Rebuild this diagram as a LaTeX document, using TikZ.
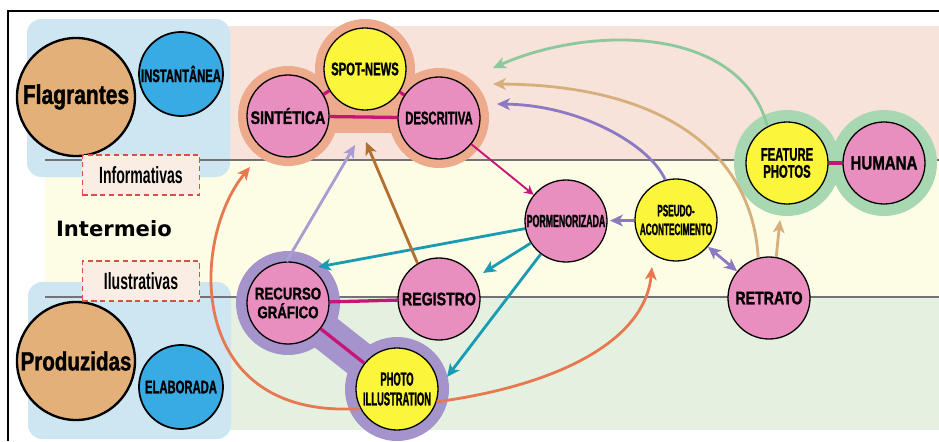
\documentclass[tikz,border=0pt]{standalone}
\usepackage{fontspec}
\newfontfamily\wideC[FakeStretch=0.78, BoldFeatures={FakeBold=1.2}]{Liberation Sans}
\newfontfamily\midC[FakeStretch=0.62, BoldFeatures={FakeBold=1.2}]{Liberation Sans}
\newfontfamily\slimC[FakeStretch=0.5, BoldFeatures={FakeBold=1.2}]{Liberation Sans}
\newfontfamily\tagC[FakeStretch=0.6]{Liberation Sans}
\newfontfamily\dejavu{DejaVu Sans}
\usetikzlibrary{arrows.meta, calc}
\definecolor{bubpink}{RGB}{233,143,191}
\definecolor{bubyellow}{RGB}{252,246,58}
\definecolor{bubblue}{RGB}{56,171,228}
\definecolor{bubtan}{RGB}{226,176,120}
\definecolor{boxblue}{RGB}{205,230,241}
\definecolor{bandpeach}{RGB}{247,227,217}
\definecolor{bandyellow}{RGB}{253,253,230}
\definecolor{bandgreen}{RGB}{229,241,224}
\definecolor{halopeach}{RGB}{237,170,140}
\definecolor{halogreen}{RGB}{168,216,178}
\definecolor{halopurple}{RGB}{165,148,204}
\definecolor{linkmag}{RGB}{200,20,120}
\definecolor{arrteal}{RGB}{25,155,180}
\definecolor{arrpurple}{RGB}{140,120,195}
\definecolor{arrtan}{RGB}{215,175,125}
\definecolor{arrgreen}{RGB}{140,200,155}
\definecolor{arrbrown}{RGB}{180,110,45}
\definecolor{arrlav}{RGB}{170,155,210}
\definecolor{arrorange}{RGB}{232,120,80}
\definecolor{tagred}{RGB}{215,80,70}
\definecolor{tagfill}{RGB}{250,238,228}
\pgfdeclarelayer{bands}
\pgfdeclarelayer{halos}
\pgfsetlayers{bands,halos,main}
\tikzset{
  bub/.style={circle, draw=black, line width=1.1pt, minimum size=2.46cm, inner sep=0pt, align=center},
  pinkbub/.style={bub, fill=bubpink},
  yelbub/.style={bub, fill=bubyellow},
  bluebub/.style={bub, fill=bubblue, minimum size=2.52cm, line width=1.5pt},
  bigbub/.style={bub, fill=bubtan, minimum size=3.54cm, line width=2pt},
  tag/.style={draw=tagred, dash pattern=on 4.5pt off 3pt, line width=1.5pt, fill=tagfill, minimum width=3.51cm, minimum height=1.2cm, font=\tagC\bfseries\fontsize{20}{22}\selectfont},
  link/.style={draw=linkmag, line width=2.8pt},
  arr/.style={line width=2.4pt, ->, >={Stealth[length=11pt,width=10pt,inset=3pt]}},
}

\begin{document}
\begin{tikzpicture}[x=0.03cm, y=-0.03cm]
  \useasboundingbox (0,0) rectangle (939,441);

  \node[bigbub, font=\wideC\bfseries\fontsize{23}{25}\selectfont] (flag) at (76,97) {Flagrantes};
  \node[bluebub, font=\midC\bfseries\fontsize{15.5}{17}\selectfont] (inst) at (181,74) {INSTANTÂNEA};
  \node[bigbub, font=\wideC\bfseries\fontsize{22.5}{25}\selectfont] (prod) at (76,361) {Produzidas};
  \node[bluebub, font=\midC\bfseries\fontsize{15.5}{17}\selectfont] (elab) at (181,387) {ELABORADA};

  \node[tag] (info) at (141,175) {Informativas};
  \node[tag] (ilus) at (141,281) {Ilustrativas};
  \node[anchor=west, font=\dejavu\bfseries\fontsize{18}{20}\selectfont] (interm) at (52,229) {Intermeio};

  \node[pinkbub, font=\wideC\bfseries\fontsize{15.5}{17}\selectfont] (sint) at (288,116) {SINTÉTICA};
  \node[yelbub, font=\midC\bfseries\fontsize{15.5}{17}\selectfont] (spot) at (365,69) {SPOT-NEWS};
  \node[pinkbub, font=\midC\bfseries\fontsize{15.5}{17}\selectfont] (desc) at (439,118) {DESCRITIVA};
  \node[yelbub, font=\midC\bfseries\fontsize{15.5}{14.5}\selectfont] (feat) at (787,163) {FEATURE\\PHOTOS};
  \node[pinkbub, font=\wideC\bfseries\fontsize{16.5}{18}\selectfont] (hum) at (884,163) {HUMANA};
  \node[pinkbub, font=\slimC\bfseries\fontsize{15}{17}\selectfont] (porm) at (566,221) {PORMENORIZADA};
  \node[yelbub, font=\slimC\bfseries\fontsize{14}{16}\selectfont] (pseudo) at (676,220) {PSEUDO-\\ACONTECIMENTO};
  \node[pinkbub, font=\wideC\bfseries\fontsize{15.5}{17}\selectfont] (retr) at (769,298) {RETRATO};
  \node[pinkbub, font=\wideC\bfseries\fontsize{15.5}{17}\selectfont] (reg) at (439,299) {REGISTRO};
  \node[pinkbub, font=\wideC\bfseries\fontsize{14.5}{16}\selectfont] (recg) at (288,303) {RECURSO\\GRÁFICO};
  \node[yelbub, font=\slimC\bfseries\fontsize{16}{17}\selectfont] (photo) at (397,389) {PHOTO\\ILLUSTRATION};

  \coordinate (topA) at (250,167);
  \coordinate (topB) at (355,145);
  \coordinate (topC) at (366,142);
  \coordinate (topG) at (493,68);
  \coordinate (topT) at (493,84);
  \coordinate (topP) at (497,104);
  \coordinate (recgin) at (318,267);
  \coordinate (regin) at (483,273);
  \coordinate (photoin) at (447,377);
  \coordinate (pseudoin) at (652,267);
  \coordinate (featin) at (780,220);

  \begin{pgfonlayer}{bands}
    \fill[bandyellow] (45,160) rectangle (939,297);
    \fill[bandpeach] (200,26) rectangle (939,160);
    \fill[bandgreen] (200,297) rectangle (939,430);
    \fill[boxblue, rounded corners=12pt] (27,19) rectangle (230,177);
    \fill[boxblue, rounded corners=12pt] (28,282) rectangle (231,439);
    \draw[black!55, line width=1.6pt] (45,160) -- (939,160) (45,297) -- (939,297);
    \draw[line width=1.3pt] (8,441) -- (8,11) -- (939,11);
  \end{pgfonlayer}

  \begin{pgfonlayer}{halos}
    \fill[halopeach] (sint) circle (1.5cm) (spot) circle (1.5cm) (desc) circle (1.5cm);
    \fill[halopeach] ($(sint)+(0,-16)$) rectangle ($(desc)+(0,15)$);
    \fill[halogreen] (feat) circle (1.59cm) (hum) circle (1.59cm);
    \draw[halopurple, line width=1.1cm] (recg) -- (photo);
    \fill[halopurple] (recg) circle (1.56cm) (photo) circle (1.56cm);
  \end{pgfonlayer}

  \draw[link] (sint) -- (spot);
  \draw[link] (spot) -- (desc);
  \draw[link] (sint) -- (desc);
  \draw[link] (feat) -- (hum);
  \draw[link] (recg) -- (reg);
  \draw[link] (recg) -- (photo);

  \draw[arr, linkmag, line width=1.6pt, >={Stealth[length=8pt,width=8pt,inset=2.5pt]}] (desc) -- (porm);
  \draw[arr, arrteal] (porm) -- (recgin);
  \draw[arr, arrteal] (porm) -- (regin);
  \draw[arr, arrteal] (porm) -- (photoin);
  \draw[arr, arrpurple, shorten >=2pt] (pseudo) -- (porm);
  \draw[arr, arrpurple, <->] (pseudo) -- (retr);
  \draw[arr, arrpurple] (pseudo.105) .. controls (650,145) and (580,105) .. (topP);
  \draw[arr, arrtan] (retr.105) .. controls (752,150) and (660,85) .. (topT);
  \draw[arr, arrtan] (retr.80) -- (featin);
  \draw[arr, arrgreen] (feat.118) .. controls (740,25) and (590,25) .. (topG);
  \draw[arr, arrbrown] (reg.121) -- (topC);
  \draw[arr, arrlav] (recg.92) -- (topB);
  \draw[arr, arrorange] (photo.208) .. controls (185,420) and (190,240) .. (topA);
  \draw[arr, arrorange] (photo.-18) .. controls (560,385) and (645,340) .. (pseudoin);
\end{tikzpicture}
\end{document}
